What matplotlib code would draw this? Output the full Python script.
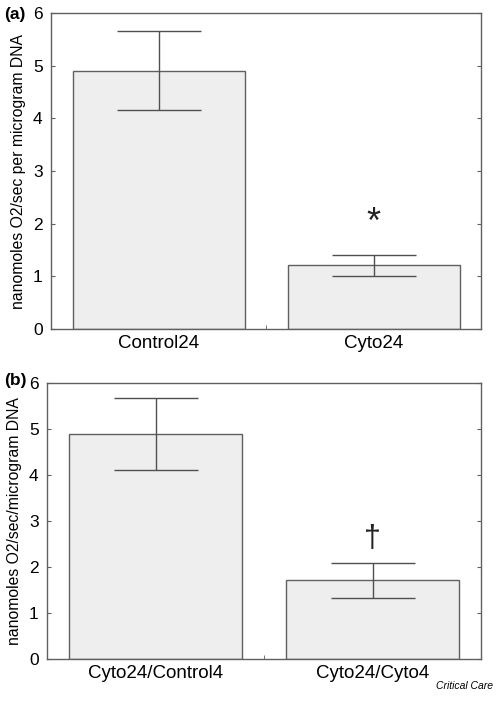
import matplotlib
matplotlib.use("Agg")
import matplotlib.pyplot as plt
from matplotlib.ticker import FixedLocator

plt.rcParams['font.family'] = ['Liberation Sans', 'DejaVu Sans']

# panel (a)
groups_a = ["Control24", "Cyto24"]
means_a = [4.9, 1.21]
err_lo_a = [4.15, 1.0]
err_hi_a = [5.65, 1.41]
ylabel_a = "nanomoles O2/sec per microgram DNA"
mark_a = "*"
mark_a_y = 2.0

# panel (b)
groups_b = ["Cyto24/Control4", "Cyto24/Cyto4"]
means_b = [4.89, 1.71]
err_lo_b = [4.12, 1.33]
err_hi_b = [5.68, 2.08]
ylabel_b = "nanomoles O2/sec/microgram DNA"
mark_b = "\u2020"
mark_b_y = 2.6

fig = plt.figure(figsize=(5.0, 7.08), dpi=100)
ax_a = fig.add_axes([0.102, 0.5353, 0.860, 0.4463])
ax_b = fig.add_axes([0.094, 0.0692, 0.868, 0.3898])


def draw_panel(ax, groups, means, lo, hi, ylabel, mark, mark_y, mark_size):
    x = list(range(len(groups)))
    yerr = [[m - l for m, l in zip(means, lo)], [h - m for m, h in zip(means, hi)]]
    ax.bar(x, means, width=0.8, color="#eeeeee", edgecolor="#606060", linewidth=1.0, zorder=2)
    ax.errorbar(x, means, yerr=yerr, fmt="none", ecolor="#505050", elinewidth=1.0,
                capsize=30, capthick=1.0, zorder=3)
    ax.text(1, mark_y, mark, ha="center", va="center", fontsize=mark_size, color="#222222")
    ax.set_xlim(-0.5, 1.5)
    ax.set_ylim(0, 6)
    ax.set_xticks(x)
    ax.set_xticklabels(groups, fontsize=13.5)
    ax.xaxis.set_minor_locator(FixedLocator([0.5]))
    ax.tick_params(axis="x", which="major", length=0, pad=4)
    ax.tick_params(axis="x", which="minor", length=3, direction="in", color="#606060")
    ax.set_yticks(range(0, 7))
    ax.tick_params(axis="y", direction="in", length=3, labelsize=12.5, right=True,
                   color="#606060", pad=6)
    ax.set_ylabel(ylabel, fontsize=11.3, labelpad=5)
    for s in ax.spines.values():
        s.set_color("#606060")
        s.set_linewidth(1.0)


draw_panel(ax_a, groups_a, means_a, err_lo_a, err_hi_a, ylabel_a, mark_a, mark_a_y, 26)
draw_panel(ax_b, groups_b, means_b, err_lo_b, err_hi_b, ylabel_b, mark_b, mark_b_y, 22)

fig.text(0.008, 0.979, "(a)", fontsize=12.5, fontweight="bold", va="center")
fig.text(0.008, 0.462, "(b)", fontsize=12.5, fontweight="bold", va="center")
fig.text(0.986, 0.031, "Critical Care", fontsize=7.5, style="italic", ha="right", va="center")

fig.savefig("out.png", dpi=100)
